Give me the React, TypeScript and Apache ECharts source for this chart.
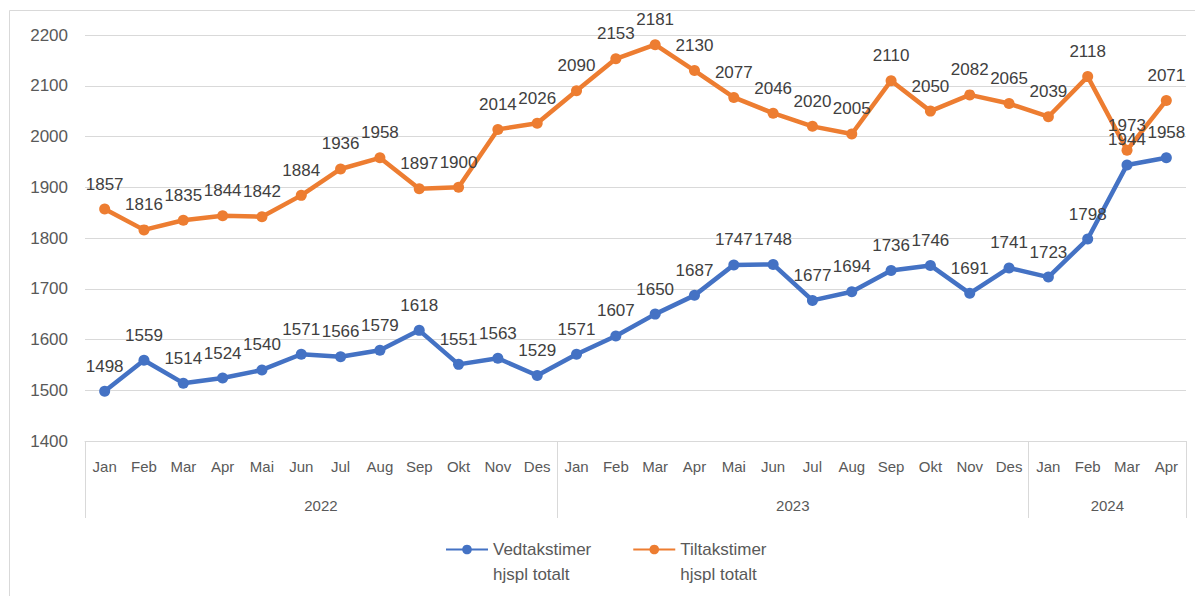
import React, { useEffect, useRef } from "react";
import * as echarts from "echarts";

const months = [
  "Jan", "Feb", "Mar", "Apr", "Mai", "Jun", "Jul", "Aug", "Sep", "Okt", "Nov", "Des",
  "Jan", "Feb", "Mar", "Apr", "Mai", "Jun", "Jul", "Aug", "Sep", "Okt", "Nov", "Des",
  "Jan", "Feb", "Mar", "Apr",
];
const years = ["2022", "2023", "2024"];
const monthsPerYear = [12, 12, 4];

const vedtak = [
  1498, 1559, 1514, 1524, 1540, 1571, 1566, 1579, 1618, 1551, 1563, 1529,
  1571, 1607, 1650, 1687, 1747, 1748, 1677, 1694, 1736, 1746, 1691, 1741,
  1723, 1798, 1944, 1958,
];
const tiltak = [
  1857, 1816, 1835, 1844, 1842, 1884, 1936, 1958, 1897, 1900, 2014, 2026,
  2090, 2153, 2181, 2130, 2077, 2046, 2020, 2005, 2110, 2050, 2082, 2065,
  2039, 2118, 1973, 2071,
];
const seriesNames = ["Vedtakstimer hjspl totalt", "Tiltakstimer hjspl totalt"];

const FONT = "Liberation Sans, Arial, sans-serif";

export default function App() {
  const ref = useRef<HTMLDivElement>(null);
  useEffect(() => {
    if (!ref.current) return;
    const chart = echarts.init(ref.current, null, { renderer: "svg" });

    const bounds: number[] = [0];
    monthsPerYear.forEach((n) => bounds.push(bounds[bounds.length - 1] + n));
    const centers = monthsPerYear.map((n, i) => bounds[i] + n / 2);
    const total = bounds[bounds.length - 1];

    const label = {
      show: true,
      position: "top" as const,
      distance: 11,
      color: "#404040",
      fontSize: 17,
      fontFamily: FONT,
    };

    chart.setOption({
      animation: false,
      textStyle: { fontFamily: FONT },
      graphic: [
        {
          type: "rect",
          shape: { x: 9.5, y: 10.5, width: 1200, height: 600 },
          style: { fill: "none", stroke: "#d9d9d9", lineWidth: 1 },
          silent: true,
        },
      ],
      grid: { left: 85, right: 9, top: 35, bottom: 155 },
      legend: {
        left: 440,
        top: 507,
        itemWidth: 42,
        itemHeight: 12,
        itemGap: 41,
        textStyle: { color: "#595959", fontSize: 17, fontFamily: FONT, lineHeight: 25 },
        formatter: (n: string) => "\n" + n.replace(" hjspl", "\nhjspl"),
        data: seriesNames,
      },
      xAxis: [
        {
          type: "category",
          data: months,
          boundaryGap: true,
          axisTick: { show: false },
          axisLine: { show: true, lineStyle: { color: "#d9d9d9", width: 1 } },
          axisLabel: {
            interval: 0,
            color: "#595959",
            fontSize: 15,
            fontFamily: FONT,
            margin: 18,
          },
        },
        {
          type: "value",
          min: 0,
          max: total,
          position: "bottom",
          offset: 0,
          axisLine: { show: false },
          splitLine: { show: false },
          axisTick: {
            show: true,
            customValues: bounds,
            length: 77,
            lineStyle: { color: "#d9d9d9", width: 1 },
          },
          axisLabel: {
            customValues: centers,
            formatter: (v: number) => {
              const i = centers.indexOf(v);
              return i >= 0 ? years[i] : "";
            },
            color: "#595959",
            fontSize: 15,
            fontFamily: FONT,
            margin: 57,
          },
        },
      ],
      yAxis: {
        type: "value",
        min: 1400,
        max: 2200,
        interval: 100,
        axisLine: { show: false },
        axisTick: { show: false },
        splitLine: { lineStyle: { color: "#d9d9d9", width: 1 } },
        axisLabel: {
          color: "#595959",
          fontSize: 17,
          fontFamily: FONT,
          margin: 17,
          formatter: (v: number) => String(v),
        },
      },
      series: [
        {
          name: seriesNames[0],
          type: "line",
          data: vedtak,
          xAxisIndex: 0,
          color: "#4472C4",
          lineStyle: { width: 4.5, color: "#4472C4" },
          symbol: "circle",
          symbolSize: 11,
          itemStyle: { color: "#4472C4" },
          label,
        },
        {
          name: seriesNames[1],
          type: "line",
          data: tiltak,
          xAxisIndex: 0,
          color: "#ED7D31",
          lineStyle: { width: 4.5, color: "#ED7D31" },
          symbol: "circle",
          symbolSize: 11,
          itemStyle: { color: "#ED7D31" },
          label,
        },
      ],
    });
    return () => chart.dispose();
  }, []);
  return (
    <div
      ref={ref}
      style={{ position: "fixed", left: 0, top: 0, width: 1195, height: 596, background: "#fff" }}
    />
  );
}
